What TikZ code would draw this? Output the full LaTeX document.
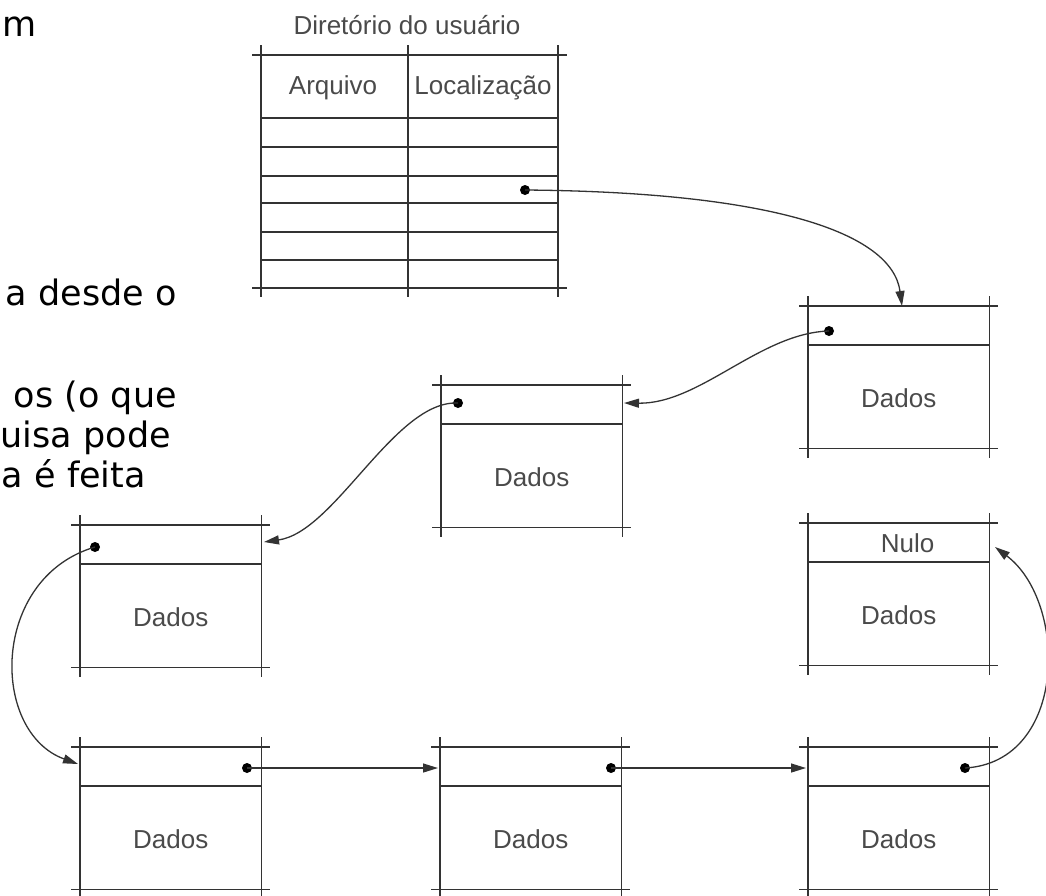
\documentclass[tikz,border=0pt]{standalone}
\usepackage{fontspec}
\usetikzlibrary{arrows.meta}
\newfontfamily\figsans{Liberation Sans}
\newfontfamily\bodysans{DejaVu Sans}
\definecolor{inkline}{HTML}{333333}
\definecolor{inktext}{HTML}{4A4A4A}

\tikzset{
  frame/.style={draw=inkline, line width=1.3pt},
  boxarea/.style={rectangle, inner sep=0pt, minimum width=181pt, minimum height=142pt},
  boxtext/.style={inner sep=0pt, text=inktext, font=\figsans\fontsize{26}{30}\selectfont},
  bodytext/.style={inner sep=0pt, anchor=base east, font=\bodysans\fontsize{35}{42}\selectfont},
  ptr/.style={circle, fill=black, inner sep=0pt, minimum size=10pt},
  link/.style={draw=inkline, line width=1.3pt, -{Triangle[length=15pt,width=9pt]}}
}

% one record of the list: pointer cell on top, data cell below
\newcommand{\databox}[4]{%
  \node[boxarea, anchor=north west] (#1) at (#2,#3) {};
  \draw[frame] ([xshift=-9pt]#1.north west) -- ([xshift=9pt]#1.north east);
  \draw[frame] ([xshift=-9pt]#1.south west) -- ([xshift=9pt]#1.south east);
  \draw[frame] ([yshift=10pt]#1.north west) -- ([yshift=-10pt]#1.south west);
  \draw[frame] ([yshift=10pt]#1.north east) -- ([yshift=-10pt]#1.south east);
  \draw[frame] ([yshift=-39pt]#1.north west) -- ([yshift=-39pt]#1.north east);
  \node[boxtext] (#1-data) at ([yshift=-92pt]#1.north) {Dados};
  #4
}

\begin{document}
\begin{tikzpicture}[x=1pt, y=-1pt]
\useasboundingbox (0,0) rectangle (1046,895);
\clip (0,0) rectangle (1046,895);

% running text at the left edge
\node[bodytext] (t1) at (37,36) {m};
\node[bodytext] (t2) at (177,305) {a desde o};
\node[bodytext] (t3) at (177,407) {os (o que};
\node[bodytext] (t4) at (171,447) {uisa pode};
\node[bodytext] (t5) at (146,487) {a é feita};

% user directory table
\node[boxtext] (title) at (407,25) {Diretório do usuário};
\node[boxtext] (hfile) at (333,88) {Arquivo};
\node[boxtext] (hloc) at (483,88) {Localização};
\draw[frame] (252,55) -- (567,55);
\draw[frame] (252,288) -- (567,288);
\foreach \yy in {118,147,176,203,232,260}
  \draw[frame] (261,\yy) -- (558,\yy);
\foreach \xx in {261,408,558}
  \draw[frame] (\xx,45) -- (\xx,297);
\node[ptr] (pT) at (525,190) {};

% list records
\databox{A}{808}{306}{}
\databox{B}{441}{385}{}
\databox{C}{80}{525}{}
\databox{D}{80}{747}{}
\databox{E}{440}{747}{}
\databox{F}{808}{747}{}
\databox{G}{808}{523}{\node[boxtext] (G-null) at ([xshift=9pt,yshift=-20pt]G.north) {Nulo};}

\node[ptr] (pA) at (829,331) {};
\node[ptr] (pB) at (458,403) {};
\node[ptr] (pC) at (95,547) {};
\node[ptr] (pD) at (247,768) {};
\node[ptr] (pE) at (611,768) {};
\node[ptr] (pF) at (965,768) {};

% arrival points of the links
\coordinate (inA) at (902,306);
\coordinate (inB) at (624,403);
\coordinate (inC) at (264,542);
\coordinate (inD) at (78,764);
\coordinate (inE) at (438,768);
\coordinate (inF) at (806,768);
\coordinate (inG) at (995,547);

% links
\draw[link] (pT.center) .. controls (770,192) and (892,232) .. (inA);
\draw[link] (pA.center) .. controls (760,333) and (700,404) .. (inB);
\draw[link] (pB.center) .. controls (395,400) and (335,532) .. (inC);
\draw[link] (pC.center) .. controls (-10,578) and (-10,732) .. (inD);
\draw[link] (pD.center) -- (inE);
\draw[link] (pE.center) -- (inF);
\draw[link] (pF.center) .. controls (1068,762) and (1068,602) .. (inG);
\end{tikzpicture}
\end{document}
